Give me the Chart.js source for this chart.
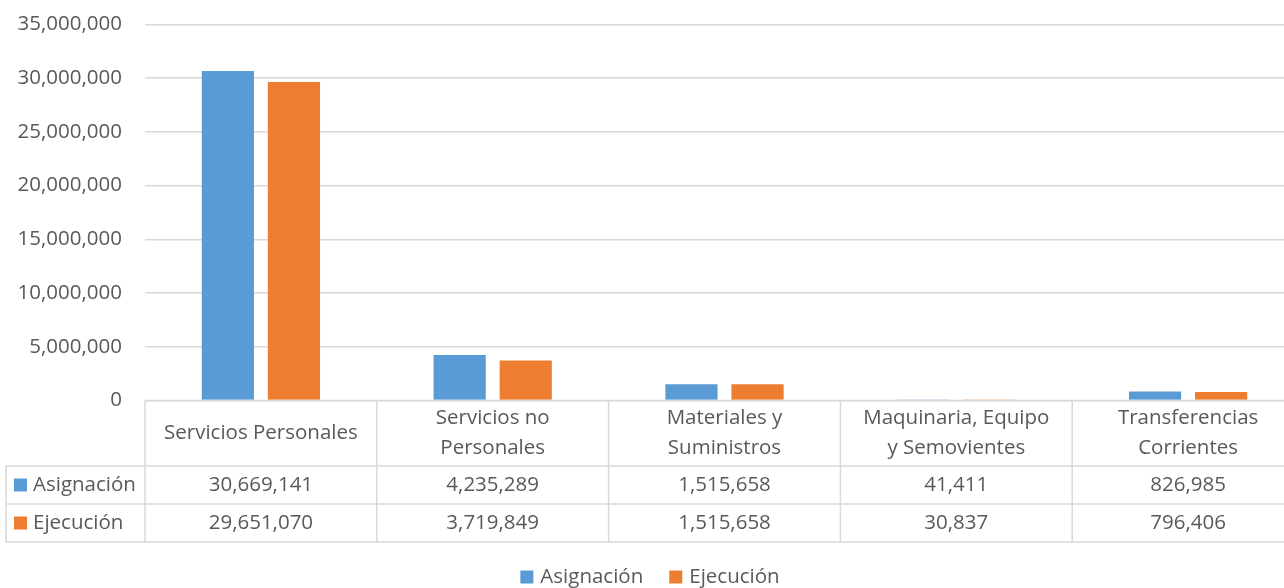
<!DOCTYPE html>
<html>
<head>
<meta charset="utf-8">
<script src="https://cdn.jsdelivr.net/npm/chart.js@4/dist/chart.umd.min.js"></script>
<style>
  html, body { margin: 0; padding: 0; background: #fff; overflow: hidden; }
  #wrap { width: 1320px; height: 588px; }
</style>
</head>
<body>
<div id="wrap"><canvas id="chart" width="1320" height="588"></canvas></div>
<script>
// categories (multi-line as shown in the data table header)
const categories = [
  ["Servicios Personales"],
  ["Servicios no", "Personales"],
  ["Materiales y", "Suministros"],
  ["Maquinaria, Equipo", "y Semovientes"],
  ["Transferencias", "Corrientes"]
];
const asignacion = [30669141, 4235289, 1515658, 41411, 826985];
const ejecucion = [29651070, 3719849, 1515658, 30837, 796406];
const yTicks = [0, 5000000, 10000000, 15000000, 20000000, 25000000, 30000000, 35000000];

const FONT = "'Open Sans', 'Noto Sans', sans-serif";
const TEXT = '#595959';
const GRID = '#d9d9d9';
const fmt = v => v.toLocaleString('en-US');

// draws the data table under the plot and the legend at the bottom
const tablePlugin = {
  id: 'dataTable',
  afterDraw(chart) {
    const ctx = chart.ctx;
    const x = chart.scales.x;
    const top = chart.chartArea.bottom;
    const headH = 65.5, rowH = 38;
    const leftEdge = 6;
    const n = categories.length;
    const colW = (x.right - x.left) / n;
    const bottom = top + headH + rowH * 2;

    ctx.save();
    ctx.strokeStyle = GRID;
    ctx.lineWidth = 1.5;
    ctx.beginPath();
    ctx.moveTo(x.left, top); ctx.lineTo(x.right, top);
    [top + headH, top + headH + rowH, bottom].forEach(yy => {
      ctx.moveTo(leftEdge, yy); ctx.lineTo(x.right, yy);
    });
    ctx.moveTo(leftEdge, top + headH); ctx.lineTo(leftEdge, bottom);
    for (let i = 0; i <= n; i++) {
      const xx = x.left + i * colW;
      ctx.moveTo(xx, top); ctx.lineTo(xx, bottom);
    }
    ctx.stroke();

    ctx.fillStyle = TEXT;
    ctx.font = '20.5px ' + FONT;
    ctx.textAlign = 'center';
    ctx.textBaseline = 'middle';
    categories.forEach((lines, i) => {
      const cx = x.getPixelForValue(i);
      const lh = 30;
      const y0 = top + headH / 2 - (lines.length - 1) * lh / 2;
      lines.forEach((l, k) => ctx.fillText(l, cx, y0 + k * lh));
    });

    const rows = chart.data.datasets;
    rows.forEach((ds, r) => {
      const cy = top + headH + rowH * r + rowH / 2;
      ds.data.forEach((v, i) => {
        ctx.fillStyle = TEXT;
        ctx.textAlign = 'center';
        ctx.fillText(fmt(v), x.getPixelForValue(i), cy);
      });
      ctx.fillStyle = ds.backgroundColor;
      ctx.fillRect(14, cy - 6.5, 13, 13);
      ctx.fillStyle = TEXT;
      ctx.textAlign = 'left';
      ctx.fillText(ds.label, 33, cy);
    });

    // legend
    const ly = 577;
    const gap = 26;
    const widths = rows.map(ds => 13 + 7 + ctx.measureText(ds.label).width);
    const total = widths.reduce((a, b) => a + b, 0) + gap * (rows.length - 1);
    let lx = 650 - total / 2;
    rows.forEach((ds, r) => {
      ctx.fillStyle = ds.backgroundColor;
      ctx.fillRect(lx, ly - 6.5, 13, 13);
      ctx.fillStyle = TEXT;
      ctx.textAlign = 'left';
      ctx.fillText(ds.label, lx + 20, ly);
      lx += widths[r] + gap;
    });
    ctx.restore();
  }
};

new Chart(document.getElementById('chart'), {
  type: 'bar',
  data: {
    labels: categories.map(c => c.join(' ')),
    datasets: [
      { label: 'Asignación', data: asignacion, backgroundColor: '#5b9bd5' },
      { label: 'Ejecución', data: ejecucion, backgroundColor: '#ed7d31' }
    ]
  },
  options: {
    responsive: false,
    animation: false,
    devicePixelRatio: 1,
    layout: { padding: { top: 24.5, right: 16, bottom: 187.5, left: 0 } },
    datasets: { bar: { categoryPercentage: 0.57, barPercentage: 0.79 } },
    plugins: { legend: { display: false }, tooltip: { enabled: false } },
    scales: {
      x: { display: false },
      y: {
        min: 0,
        max: 35000000,
        afterFit(scale) {
          scale.width = 145;
          scale.paddingTop = 0;
          scale.paddingBottom = 0;
        },
        afterBuildTicks(scale) { scale.ticks = yTicks.map(v => ({ value: v })); },
        border: { display: false },
        grid: { color: GRID, lineWidth: 1.5, drawTicks: false },
        ticks: {
          padding: 23,
          color: TEXT,
          font: { family: FONT, size: 20.5 },
          callback: v => fmt(v)
        }
      }
    }
  },
  plugins: [tablePlugin]
});
</script>
</body>
</html>
